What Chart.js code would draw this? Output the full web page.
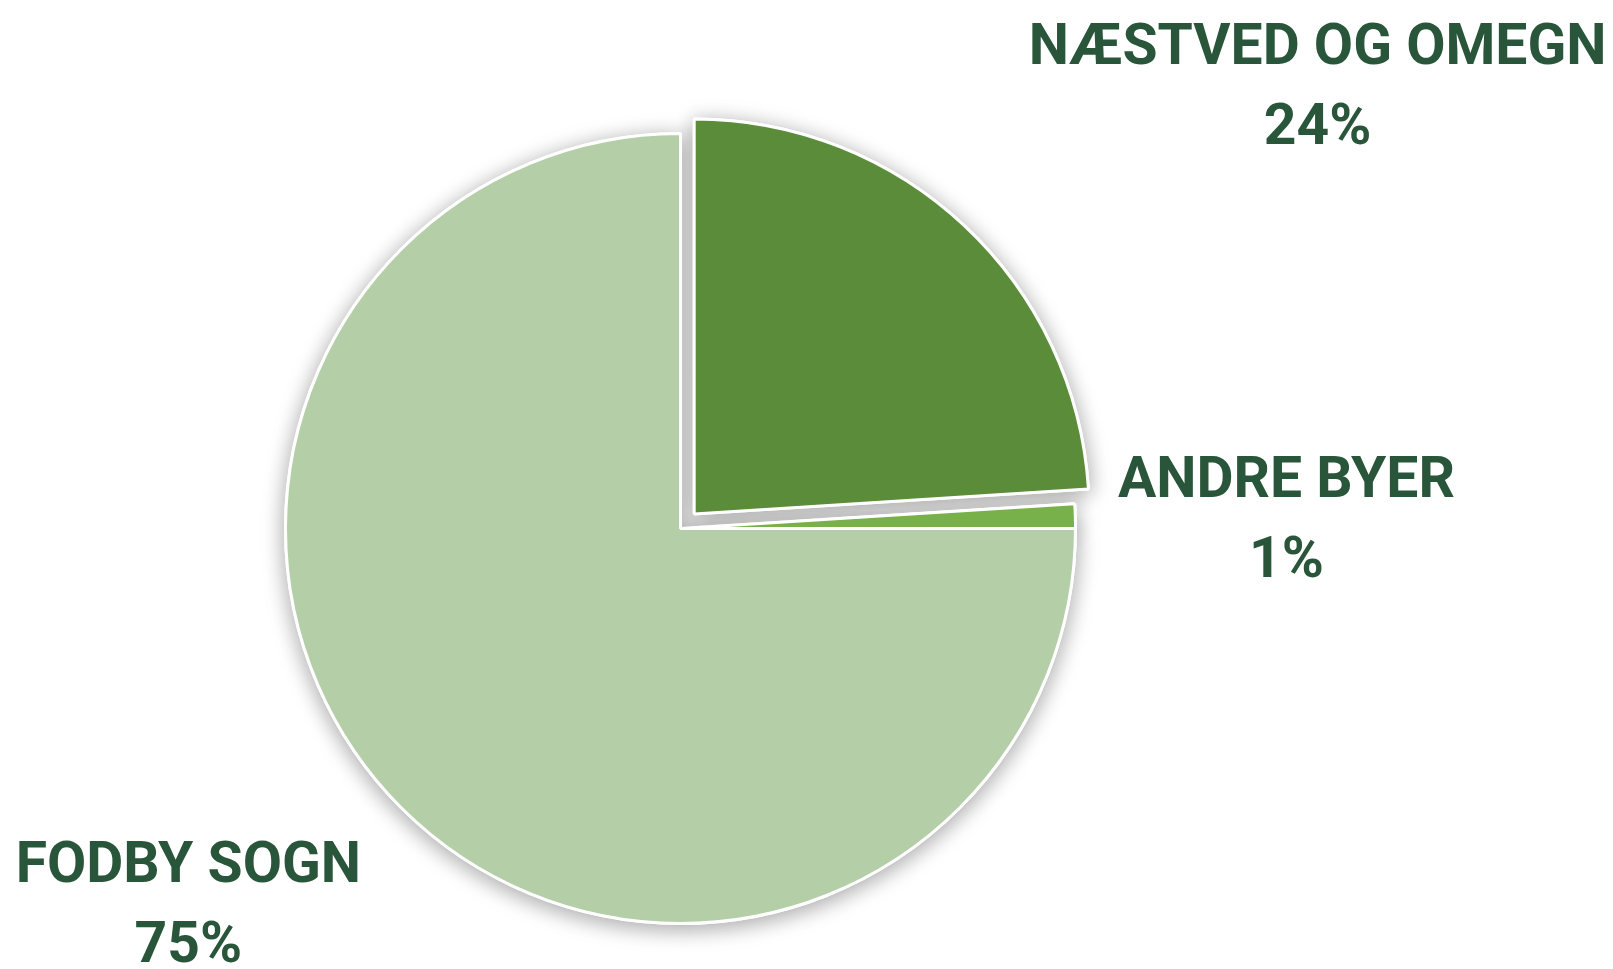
<!DOCTYPE html>
<html>
<head>
<meta charset="utf-8">
<script src="https://cdn.jsdelivr.net/npm/chart.js@4"></script>
<style>
    html, body { margin: 0; padding: 0; background: #fff; }
    .chart-container { width: 1613px; height: 969px; position: relative; }
</style>
</head>
<body>
<div class="chart-container"><canvas id="originChart"></canvas></div>
<script>
const categories = ['NÆSTVED OG OMEGN', 'ANDRE BYER', 'FODBY SOGN'];
const shares = [24, 1, 75];
const sliceColors = ['#5b8c3a', '#78b04a', '#b4cea8'];

// where each label block sits, in units of the pie radius from its centre
const labelSpots = [
    { dx: 1.613, dy: -1.177 },
    { dx: 1.534, dy: -0.081 },
    { dx: -1.246, dy: 0.896 }
];

const shadowPlugin = {
    id: 'pieShadow',
    beforeDatasetsDraw(chart) {
        const ctx = chart.ctx;
        ctx.save();
        ctx.shadowColor = 'rgba(0,0,0,0.35)';
        ctx.shadowBlur = 22;
        ctx.shadowOffsetY = 4;
        chart.getDatasetMeta(0).data.forEach(arc => arc.draw(ctx));
        ctx.restore();
    }
};

const labelPlugin = {
    id: 'outsideLabels',
    afterDatasetsDraw(chart) {
        const ctx = chart.ctx;
        const arcs = chart.getDatasetMeta(0).data;
        const cx = arcs[0].x, cy = arcs[0].y, r = arcs[0].outerRadius;
        ctx.save();
        ctx.fillStyle = '#29563a';
        ctx.font = 'bold 57px Roboto';
        ctx.textAlign = 'center';
        ctx.textBaseline = 'alphabetic';
        categories.forEach((name, i) => {
            const x = cx + labelSpots[i].dx * r;
            const y = cy + labelSpots[i].dy * r;
            ctx.fillText(name, x, y);
            ctx.fillText(shares[i] + '%', x, y + 80);
        });
        ctx.restore();
    }
};

document.addEventListener('DOMContentLoaded', function() {
    const ctx = document.getElementById('originChart').getContext('2d');
    new Chart(ctx, {
        type: 'pie',
        data: {
            labels: categories,
            datasets: [{
                data: shares,
                backgroundColor: sliceColors,
                borderColor: '#ffffff',
                borderWidth: 3,
                offset: [80, 0, 0]
            }]
        },
        options: {
            responsive: true,
            maintainAspectRatio: false,
            animation: false,
            layout: { padding: { left: 244, top: 92, right: 496, bottom: 4 } },
            plugins: {
                legend: { display: false },
                tooltip: { enabled: false }
            }
        },
        plugins: [shadowPlugin, labelPlugin]
    });
});
</script>
</body>
</html>
